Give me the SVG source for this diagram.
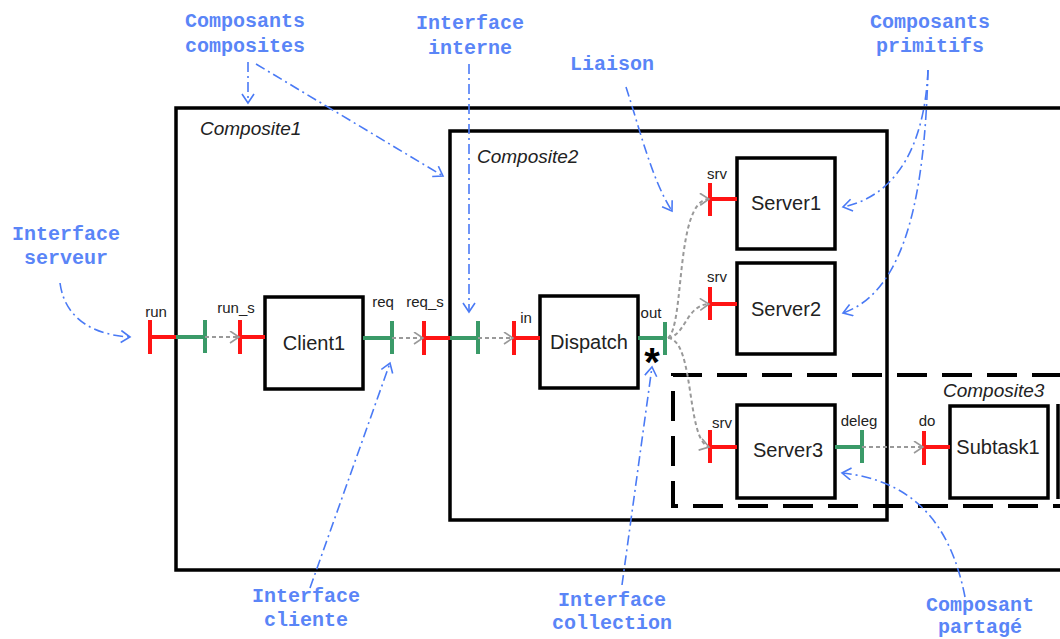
<svg xmlns="http://www.w3.org/2000/svg" width="1060" height="639" viewBox="0 0 1060 639">
<style>
.box{fill:#fff;stroke:#000;stroke-width:3.5}
.comp{fill:none;stroke:#000;stroke-width:3.5}
.dash{fill:none;stroke:#000;stroke-width:4;stroke-dasharray:30,15}
.red{stroke:#ff1414;stroke-width:4;fill:none}
.green{stroke:#3a9a68;stroke-width:4;fill:none}
.link{stroke:#999;stroke-width:2;stroke-dasharray:4,3;fill:none;marker-end:url(#ga)}
.ann{stroke:#4a7af5;stroke-width:1.6;stroke-dasharray:10,4,2,4;fill:none;marker-end:url(#ba)}
.atext{font-family:"Liberation Mono","Courier New",monospace;font-weight:bold;font-size:20px;fill:#5a85f7;text-anchor:middle}
.ctext{font-family:"Liberation Sans",Arial,sans-serif;font-style:italic;font-size:19px;fill:#222}
.ntext{font-family:"Liberation Sans",Arial,sans-serif;font-size:20px;fill:#222;text-anchor:middle}
.ptext{font-family:"Liberation Sans",Arial,sans-serif;font-size:15px;fill:#222;text-anchor:middle}
</style>
<defs>
<marker id="ga" markerUnits="userSpaceOnUse" markerWidth="12" markerHeight="14" refX="10" refY="6.5" orient="auto">
<path d="M1,0.5 L10,6.5 L1,12.5" fill="none" stroke="#999" stroke-width="1.6"/>
</marker>
<marker id="ba" markerUnits="userSpaceOnUse" markerWidth="12" markerHeight="14" refX="10" refY="6.5" orient="auto">
<path d="M1,0.5 L10,6.5 L1,12.5" fill="none" stroke="#4a7af5" stroke-width="1.6"/>
</marker>
</defs>
<rect width="1060" height="639" fill="#fff"/>

<g id="Composite1">
<path class="comp" d="M1062,108 L176,108 L176,570 L1062,570"/>
<text class="ctext" x="200" y="135">Composite1</text>
</g>
<g id="Composite2">
<rect class="comp" x="450" y="131" width="437" height="389"/>
<text class="ctext" x="477" y="163">Composite2</text>
</g>
<g id="Composite3">
<path class="dash" d="M1062,375 L673,375 L673,506 L1062,506"/>
<text class="ctext" x="943" y="397">Composite3</text>
</g>
<g id="Edge">
<line x1="1058" y1="404" x2="1058" y2="499" stroke="#000" stroke-width="3.5"/>
</g>

<g id="Client1">
<rect class="box" x="265" y="297" width="98" height="92"/>
<text class="ntext" x="314" y="350">Client1</text>
</g>
<g id="Dispatch">
<rect class="box" x="540" y="296" width="98" height="92"/>
<text class="ntext" x="589" y="349">Dispatch</text>
</g>
<g id="Server1">
<rect class="box" x="737" y="158" width="98" height="91"/>
<text class="ntext" x="786" y="210">Server1</text>
</g>
<g id="Server2">
<rect class="box" x="737" y="263" width="98" height="91"/>
<text class="ntext" x="786" y="316">Server2</text>
</g>
<g id="Server3">
<rect class="box" x="737" y="405" width="98" height="93"/>
<text class="ntext" x="788" y="457">Server3</text>
</g>
<g id="Subtask1">
<rect class="box" x="950" y="406" width="98" height="92"/>
<text class="ntext" x="998" y="454">Subtask1</text>
</g>

<g id="interfaces">
<path class="red" d="M150,320 L150,354 M150,337 L176,337"/>
<path class="green" d="M176,337 L205,337 M205,320 L205,353"/>
<text class="ptext" x="156" y="317">run</text>
<path class="red" d="M240,320 L240,354 M240,337 L265,337"/>
<text class="ptext" x="236" y="313">run_s</text>
<path class="green" d="M363,338 L392,338 M392,321 L392,354"/>
<text class="ptext" x="383" y="307">req</text>
<path class="red" d="M424,321 L424,355 M424,338 L450,338"/>
<path class="green" d="M450,338 L478,338 M478,321 L478,354"/>
<text class="ptext" x="425" y="307">req_s</text>
<path class="red" d="M514,321 L514,355 M514,338 L540,338"/>
<text class="ptext" x="526" y="323">in</text>
<path class="green" d="M638,338 L665,338 M665,322 L665,355"/>
<text class="ptext" x="651" y="318">out</text>
<text x="652" y="376" font-family="Liberation Sans, Arial, sans-serif" font-weight="bold" font-size="40" fill="#000" text-anchor="middle">*</text>
<path class="red" d="M710,183 L710,216 M710,199 L737,199"/>
<text class="ptext" x="717" y="179">srv</text>
<path class="red" d="M710,287 L710,320 M710,304 L737,304"/>
<text class="ptext" x="717" y="282">srv</text>
<path class="red" d="M710,430 L710,463 M710,447 L737,447"/>
<text class="ptext" x="722" y="428">srv</text>
<path class="green" d="M835,447 L862,447 M862,430 L862,463"/>
<text class="ptext" x="859" y="426">deleg</text>
<path class="red" d="M924,431 L924,465 M924,447 L950,447"/>
<text class="ptext" x="927" y="426">do</text>
</g>

<g id="connectors">
<path class="link" d="M205,337 L239,337"/>
<path class="link" d="M392,338 L423,338"/>
<path class="link" d="M478,338 L513,338"/>
<path class="link" d="M668,338 C685,325 675,200 709,199"/>
<path class="link" d="M668,338 C686,335 686,305 709,304"/>
<path class="link" d="M668,338 C695,340 686,440 709,447"/>
<path class="link" d="M862,447 L923,447"/>
</g>

<g id="annotations">
<path class="ann" d="M248,62 L248,103"/>
<path class="ann" d="M256,64 L443,176"/>
<path class="ann" d="M469,64 L469,312"/>
<path class="ann" d="M626,87 C640,130 652,180 672,211"/>
<path class="ann" d="M928,70 C925,140 900,195 843,207"/>
<path class="ann" d="M928,70 C925,180 910,290 843,313"/>
<path class="ann" d="M60,283 C65,320 95,335 130,337"/>
<path class="ann" d="M310,588 L390,363"/>
<path class="ann" d="M622,585 L652,367"/>
<path class="ann" d="M965,597 C950,520 910,480 842,473"/>
<text class="atext" x="245" y="27">Composants</text>
<text class="atext" x="245" y="52">composites</text>
<text class="atext" x="470" y="29">Interface</text>
<text class="atext" x="470" y="54">interne</text>
<text class="atext" x="612" y="70">Liaison</text>
<text class="atext" x="930" y="28">Composants</text>
<text class="atext" x="930" y="52">primitifs</text>
<text class="atext" x="66" y="240">Interface</text>
<text class="atext" x="66" y="264">serveur</text>
<text class="atext" x="306" y="602">Interface</text>
<text class="atext" x="306" y="626">cliente</text>
<text class="atext" x="612" y="606">Interface</text>
<text class="atext" x="612" y="629">collection</text>
<text class="atext" x="980" y="611">Composant</text>
<text class="atext" x="980" y="633">partagé</text>
</g>
</svg>
